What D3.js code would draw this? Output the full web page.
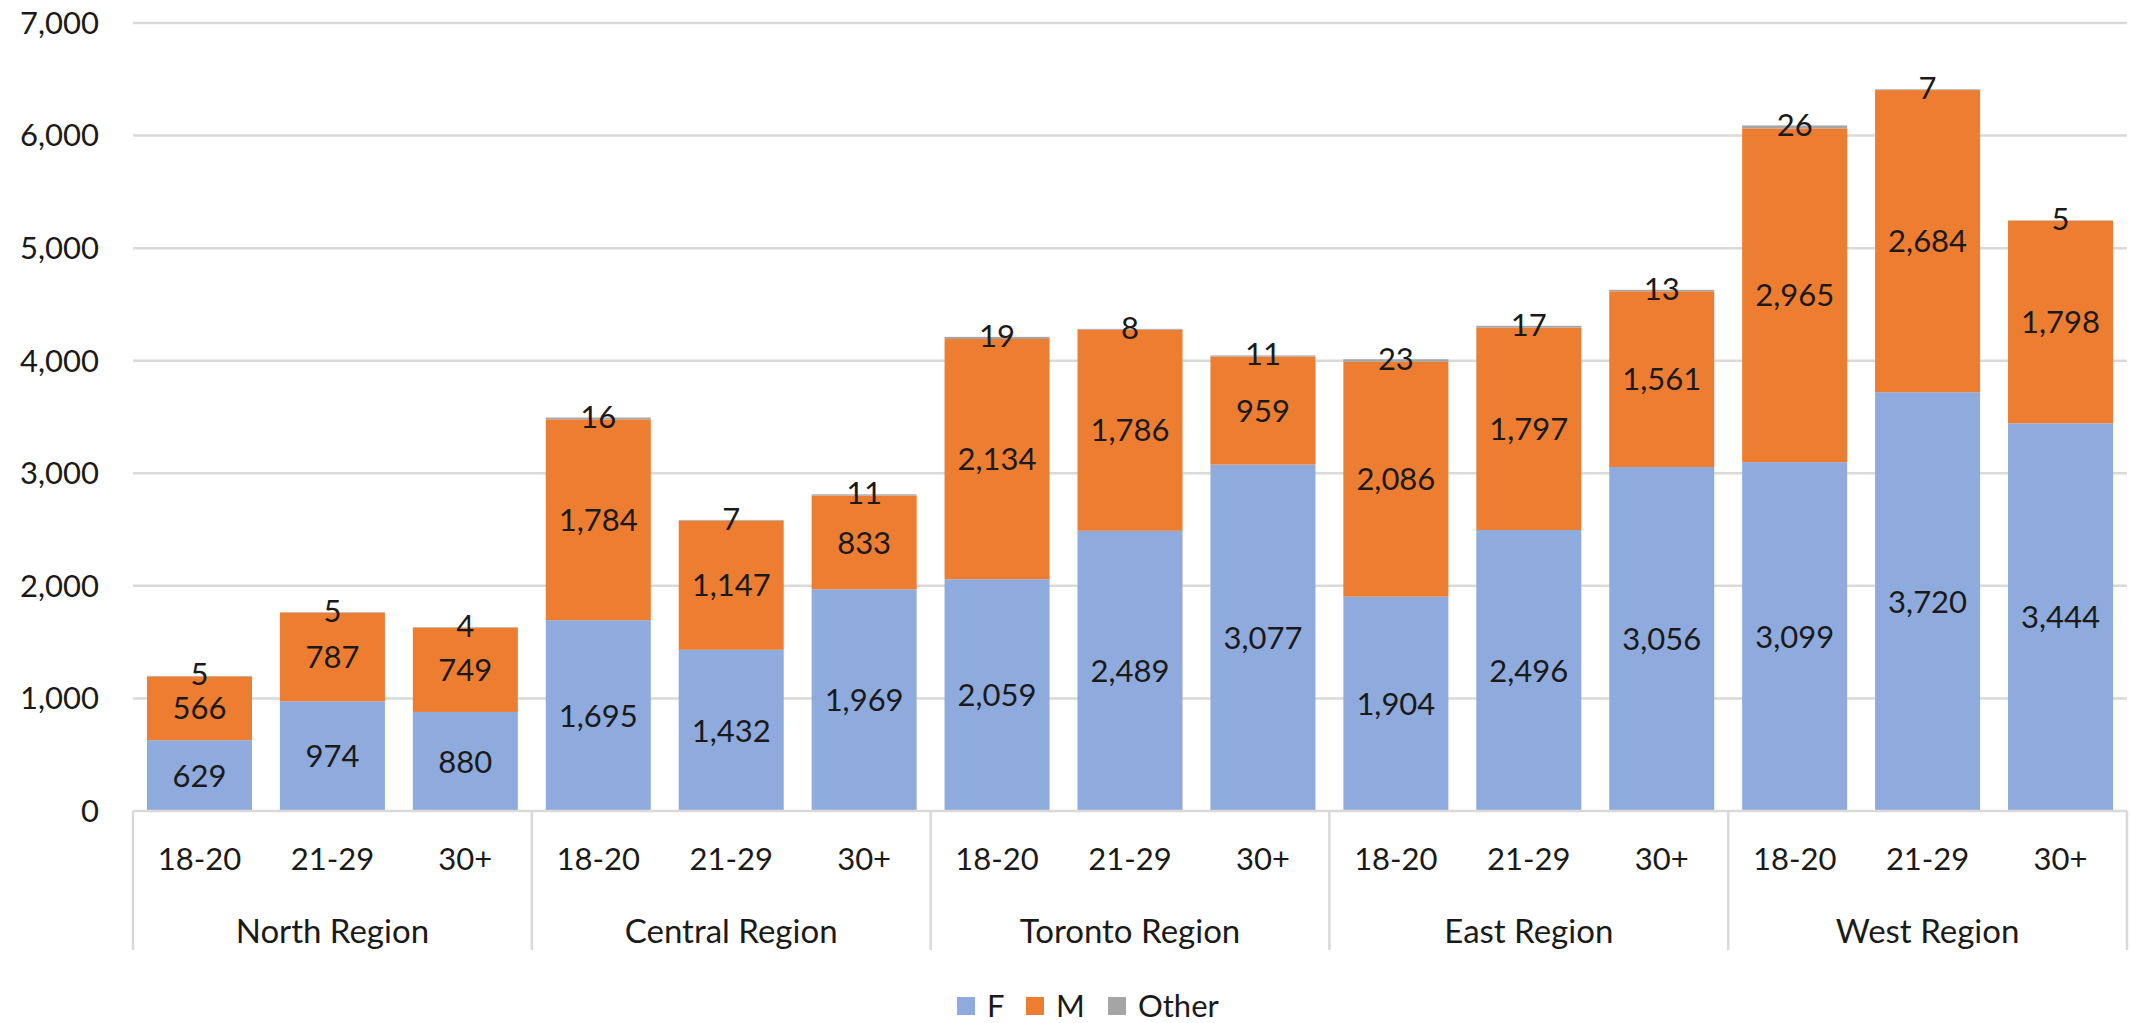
<!DOCTYPE html>
<html>
<head>
<meta charset="utf-8">
<script src="https://cdn.jsdelivr.net/npm/d3@7/dist/d3.min.js"></script>
<style>
  html, body { margin: 0; padding: 0; background: #fff; }
  svg { display: block; }
  text { font-family: Lato, "Open Sans", sans-serif; fill: #1a1a1a; }
</style>
</head>
<body>
<svg id="chart" width="2131" height="1023"></svg>
<script>
// ---- data ----
const regions = ["North Region", "Central Region", "Toronto Region", "East Region", "West Region"];
const ageGroups = ["18-20", "21-29", "30+"];
const seriesNames = ["F", "M", "Other"];
// values per region, in ageGroups order
const fValues = [
  [629, 974, 880],
  [1695, 1432, 1969],
  [2059, 2489, 3077],
  [1904, 2496, 3056],
  [3099, 3720, 3444]
];
const mValues = [
  [566, 787, 749],
  [1784, 1147, 833],
  [2134, 1786, 959],
  [2086, 1797, 1561],
  [2965, 2684, 1798]
];
const otherValues = [
  [5, 5, 4],
  [16, 7, 11],
  [19, 8, 11],
  [23, 17, 13],
  [26, 7, 5]
];
const yTicks = [0, 1000, 2000, 3000, 4000, 5000, 6000, 7000];
const colors = { "F": "#8FAADC", "M": "#ED7D31", "Other": "#A5A5A5" };

// ---- layout ----
const svg = d3.select("#chart");
const plotLeft = 133, plotRight = 2127, plotTop = 23, plotBottom = 811;
const gridColor = "#D9D9D9";
const fontSize = 31;

const x0 = d3.scaleBand().domain(regions).range([plotLeft, plotRight]).padding(0);
const x1 = d3.scaleBand().domain(ageGroups).range([0, x0.bandwidth()])
  .paddingInner(0.21).paddingOuter(0.105);
const y = d3.scaleLinear().domain([0, 7000]).range([plotBottom, plotTop]);

// rows
const rows = [];
regions.forEach((r, i) => {
  ageGroups.forEach((a, j) => {
    rows.push({ region: r, age: a, F: fValues[i][j], M: mValues[i][j], Other: otherValues[i][j] });
  });
});
const stacked = d3.stack().keys(seriesNames)(rows);

// gridlines
svg.append("g").selectAll("line").data(yTicks.filter(t => t > 0)).join("line")
  .attr("x1", plotLeft).attr("x2", plotRight)
  .attr("y1", d => y(d)).attr("y2", d => y(d))
  .attr("stroke", gridColor).attr("stroke-width", 2.5);

// y tick labels
svg.append("g").selectAll("text").data(yTicks).join("text")
  .attr("x", 99).attr("y", d => y(d)).attr("dy", "0.35em")
  .attr("text-anchor", "end").attr("font-size", fontSize)
  .text(d => d3.format(",")(d));

// bars
const xPos = d => x0(d.data.region) + x1(d.data.age);
stacked.forEach(layer => {
  svg.append("g").selectAll("rect").data(layer).join("rect")
    .attr("x", xPos)
    .attr("width", x1.bandwidth())
    .attr("y", d => y(d[1]))
    .attr("height", d => y(d[0]) - y(d[1]))
    .attr("fill", colors[layer.key]);
});

// data labels
stacked.forEach(layer => {
  svg.append("g").selectAll("text").data(layer).join("text")
    .attr("x", d => xPos(d) + x1.bandwidth() / 2)
    .attr("y", d => (y(d[0]) + y(d[1])) / 2)
    .attr("dy", layer.key === "Other" ? "0.3em" : "0.36em")
    .attr("text-anchor", "middle").attr("font-size", fontSize)
    .attr("fill", "#111")
    .text(d => d3.format(",")(d.data[layer.key]));
});

// x axis line and region separators
svg.append("line").attr("x1", plotLeft).attr("x2", plotRight).attr("y1", plotBottom).attr("y2", plotBottom)
  .attr("stroke", gridColor).attr("stroke-width", 2.5);
const seps = regions.map(r => x0(r)).concat([plotRight]);
svg.append("g").selectAll("line").data(seps).join("line")
  .attr("x1", d => d).attr("x2", d => d)
  .attr("y1", plotBottom).attr("y2", 950)
  .attr("stroke", gridColor).attr("stroke-width", 2.5);

// age labels
svg.append("g").selectAll("text").data(rows).join("text")
  .attr("x", d => x0(d.region) + x1(d.age) + x1.bandwidth() / 2)
  .attr("y", 859).attr("dy", "0.35em")
  .attr("text-anchor", "middle").attr("font-size", fontSize)
  .text(d => d.age);

// region labels
svg.append("g").selectAll("text").data(regions).join("text")
  .attr("x", d => x0(d) + x0.bandwidth() / 2)
  .attr("y", 931).attr("dy", "0.35em")
  .attr("text-anchor", "middle").attr("font-size", 33)
  .text(d => d);

// legend
const legendX = [957, 1026, 1108];
const lg = svg.append("g").selectAll("g").data(seriesNames).join("g")
  .attr("transform", (d, i) => `translate(${legendX[i]},997)`);
lg.append("rect").attr("width", 18).attr("height", 18).attr("fill", d => colors[d]);
lg.append("text").attr("x", 30).attr("y", 9).attr("dy", "0.36em")
  .attr("font-size", fontSize).text(d => d);
</script>
</body>
</html>
